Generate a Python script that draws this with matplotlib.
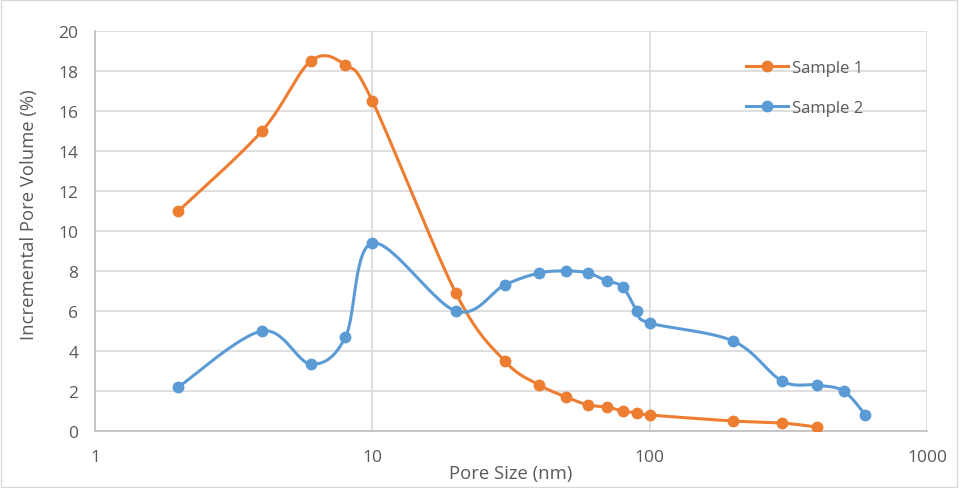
import numpy as np
import matplotlib.pyplot as plt
from matplotlib.patches import Rectangle

plt.rcParams['font.family'] = ['Open Sans', 'DejaVu Sans']

size1 = [2, 4, 6, 8, 10, 20, 30, 40, 50, 60, 70, 80, 90, 100, 200, 300, 400]
vol1 = [11.0, 15.0, 18.5, 18.3, 16.5, 6.9, 3.5, 2.3, 1.7, 1.3, 1.2, 1.0, 0.9, 0.8, 0.5, 0.4, 0.2]

size2 = [2, 4, 6, 8, 10, 20, 30, 40, 50, 60, 70, 80, 90, 100, 200, 300, 400, 500, 600]
vol2 = [2.2, 5.0, 3.35, 4.7, 9.4, 6.0, 7.3, 7.9, 8.0, 7.9, 7.5, 7.2, 6.0, 5.4, 4.5, 2.5, 2.3, 2.0, 0.8]

x_ticks = [1, 10, 100, 1000]
y_ticks = list(range(0, 21, 2))

orange = '#ED7D31'
blue = '#5B9BD5'
text_col = '#595959'


def smooth(xs, ys, n=30):
    # Catmull-Rom style smoothing in log-x space, like spreadsheet smoothed lines
    lx = np.log10(np.array(xs, float))
    y = np.array(ys, float)
    pts = np.column_stack([lx, y])
    out = []
    for i in range(len(pts) - 1):
        p0 = pts[i - 1] if i > 0 else pts[i]
        p1 = pts[i]
        p2 = pts[i + 1]
        p3 = pts[i + 2] if i + 2 < len(pts) else pts[i + 1]
        c1 = p1 + (p2 - p0) / 6
        c2 = p2 - (p3 - p1) / 6
        t = np.linspace(0, 1, n)[:, None]
        seg = ((1 - t) ** 3) * p1 + 3 * ((1 - t) ** 2) * t * c1 + 3 * (1 - t) * t ** 2 * c2 + t ** 3 * p2
        out.append(seg if i == 0 else seg[1:])
    out = np.vstack(out)
    return 10 ** out[:, 0], out[:, 1]


fig = plt.figure(figsize=(9.59, 4.89), dpi=100)
ax = fig.add_axes([95 / 959, 1 - 432 / 489, 832 / 959, 400 / 489])

for xs, ys, col, name in [(size1, vol1, orange, 'Sample 1'), (size2, vol2, blue, 'Sample 2')]:
    sx, sy = smooth(xs, ys)
    ax.plot(sx, sy, color=col, lw=2.2, solid_capstyle='round', zorder=3)
    ax.plot(xs, ys, 'o', color=col, ms=7.5, zorder=4)
    ax.plot([], [], '-o', color=col, lw=2.2, ms=7.5, label=name)

ax.set_xscale('log')
ax.set_xlim(1, 1000)
ax.set_ylim(0, 20)
ax.set_xticks(x_ticks)
ax.set_xticklabels([str(v) for v in x_ticks])
ax.xaxis.set_minor_locator(plt.NullLocator())
ax.set_yticks(y_ticks)
ax.tick_params(length=0, labelsize=12.5, colors=text_col)
ax.tick_params(axis='y', pad=12)
ax.tick_params(axis='x', pad=13)
ax.grid(True, color='#d9d9d9', lw=1.2)
ax.set_axisbelow(True)
for s in ['top', 'right']:
    ax.spines[s].set_visible(False)
for s in ['left', 'bottom']:
    ax.spines[s].set_color('#bfbfbf')
    ax.spines[s].set_linewidth(1.2)

ax.set_xlabel('Pore Size (nm)', fontsize=13.3, color=text_col)
ax.set_ylabel('Incremental Pore Volume (%)', fontsize=13.3, color=text_col)
ax.xaxis.set_label_coords(0.5, -0.083)
ax.yaxis.set_label_coords(-0.068, 0.5425)

leg = ax.legend(loc='upper left', bbox_to_anchor=(0.765, 0.965), frameon=False,
                fontsize=12, labelspacing=1.45, handlelength=2.5, handletextpad=0.23)
for t in leg.get_texts():
    t.set_color(text_col)

fig.patches.append(Rectangle((0.001, 0.002), 0.997, 0.995, transform=fig.transFigure,
                             fill=False, edgecolor='#d9d9d9', lw=1))

fig.savefig('out.png', dpi=100)
